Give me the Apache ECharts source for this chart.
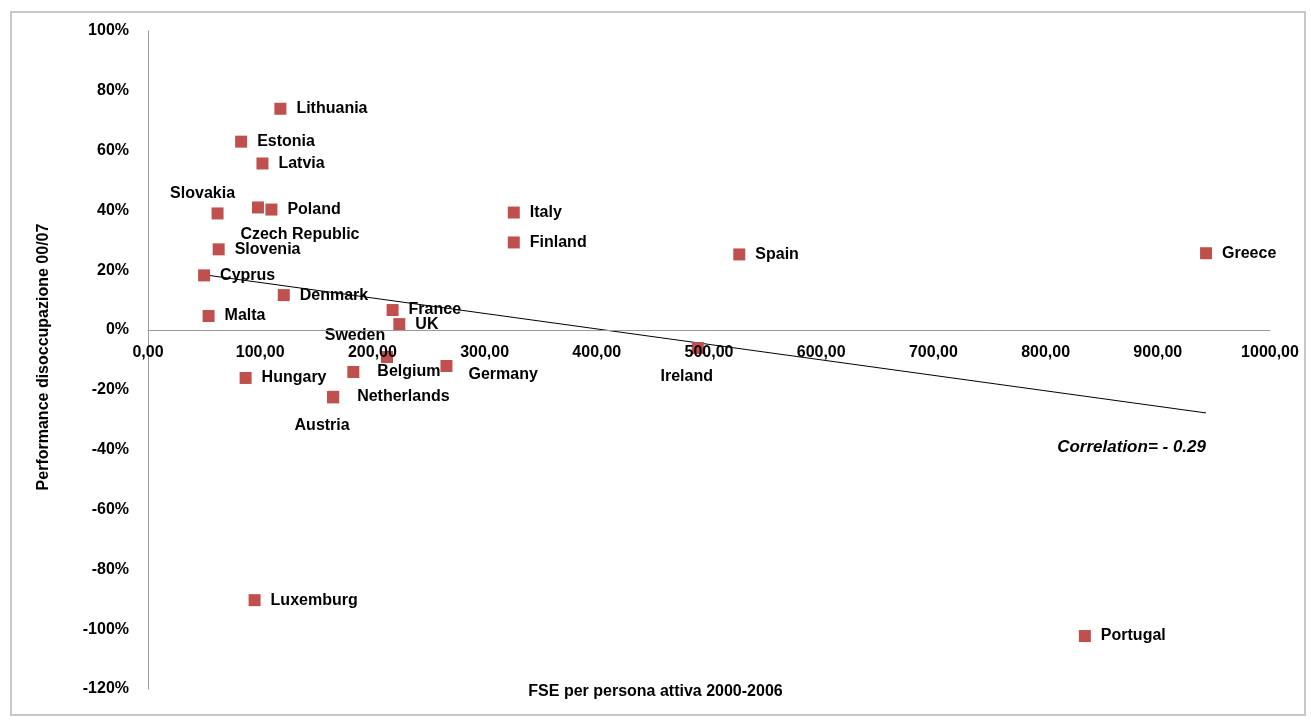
<!DOCTYPE html>
<html>
<head>
<meta charset="utf-8">
<script src="https://cdn.jsdelivr.net/npm/echarts@6/dist/echarts.min.js"></script>
<style>
html,body{margin:0;padding:0;background:#fff;}
#chart{width:1311px;height:721px;}
</style>
</head>
<body>
<div id="chart"></div>
<script>
const countries = ['Lithuania','Estonia','Latvia','Slovakia','Czech Republic','Poland','Slovenia','Cyprus','Denmark','Malta','France','UK','Sweden','Hungary','Belgium','Germany','Netherlands','Austria','Italy','Finland','Spain','Ireland','Greece','Luxemburg','Portugal'];
const fsePerActive = [118,83,102,62,98,110,63,50,121,54,218,224,213,87,183,266,165,165,326,326,527,490,943,95,835];
const unemploymentPerf = [0.74,0.63,0.557,0.39,0.41,0.403,0.27,0.183,0.117,0.047,0.067,0.02,-0.09,-0.16,-0.14,-0.12,-0.223,-0.225,0.393,0.293,0.253,-0.06,0.257,-0.903,-1.023];
const trendX = [50, 943];
const trendY = [0.185, -0.277];
const xTicksMin = 0, xTicksMax = 1000, xTickStep = 100;
const yTicksMin = -1.2, yTicksMax = 1.0, yTickStep = 0.2;
const xTitle = 'FSE per persona attiva 2000-2006';
const yTitle = 'Performance disoccupazione 00/07';
const corrText = 'Correlation= - 0.29';

const FONT = '"Liberation Sans", Arial, sans-serif';
const labelOverrides = {
  'Slovakia': {position:'top', offset:[-15,4]},
  'Czech Republic': {position:'bottom', offset:[42,3]},
  'Sweden': {position:'top', offset:[-32,3]},
  'Austria': {position:'bottom', offset:[-11,4]},
  'Ireland': {position:'bottom', offset:[-11,5]},
  'Germany': {position:'right', distance:16, offset:[0,9]},
  'Belgium': {position:'right', distance:18},
  'Netherlands': {position:'right', distance:18}
};

const pts = countries.map((c,i)=>{
  const d = {name:c, value:[fsePerActive[i], unemploymentPerf[i]]};
  if (labelOverrides[c]) d.label = labelOverrides[c];
  return d;
});

const chart = echarts.init(document.getElementById('chart'));
const option = {
  animation:false,
  backgroundColor:'#fff',
  grid:{left:148, right:41, top:31, bottom:32, containLabel:false},
  xAxis:{
    type:'value', min:xTicksMin, max:xTicksMax, interval:xTickStep, z:10,
    position:'bottom', offset:0,
    axisLine:{onZero:false, lineStyle:{color:'#9a9a9a', width:1}},
    axisTick:{show:false},
    splitLine:{show:false},
    axisLabel:{margin:15, color:'#000', fontWeight:'bold', fontSize:16, fontFamily:FONT,
      formatter:v=>v.toFixed(2).replace('.',',')}
  },
  yAxis:{
    type:'value', min:yTicksMin, max:yTicksMax, interval:yTickStep,
    axisLine:{show:true, onZero:false, lineStyle:{color:'#9a9a9a', width:1}},
    axisTick:{show:false},
    splitLine:{show:false},
    axisLabel:{margin:19, color:'#000', fontWeight:'bold', fontSize:16, fontFamily:FONT,
      formatter:v=>Math.round(v*100)+'%'}
  },
  series:[
    {
      type:'line', data:trendX.map((x,i)=>[x,trendY[i]]), symbol:'none',
      lineStyle:{color:'#000', width:1}, z:1, silent:true
    },
    {
      type:'scatter', data:pts, symbol:'rect', symbolSize:12,
      itemStyle:{color:'#c0504d', opacity:1}, z:3,
      label:{show:true, position:'right', distance:10, formatter:'{b}',
        color:'#000', opacity:1, fontWeight:'bold', fontSize:16, fontFamily:FONT}
    }
  ],
  graphic:[
    {type:'rect', shape:{x:11, y:12, width:1294, height:703}, style:{fill:'none', stroke:'#c8c8c8', lineWidth:2}, z:-1},
    {type:'text', left:'center', top:684, style:{text:xTitle, fill:'#000', font:'bold 16px '+FONT}},
    {type:'text', x:44, y:357, rotation:Math.PI/2, style:{text:yTitle, fill:'#000', font:'bold 16px '+FONT, textAlign:'center', textVerticalAlign:'middle'}},
    {type:'text', x:1206, y:447, style:{text:corrText, fill:'#000', font:'italic bold 17px '+FONT, textAlign:'right', textVerticalAlign:'middle'}}
  ]
};
chart.setOption(option);
// move the x axis (line + labels) up to the y = 0 crossing, like the original
const zeroPx = chart.convertToPixel({gridIndex:0}, [0, 0])[1];
const bottomPx = chart.convertToPixel({gridIndex:0}, [0, yTicksMin])[1];
chart.setOption({xAxis:{offset: zeroPx - bottomPx}});
</script>
</body>
</html>
